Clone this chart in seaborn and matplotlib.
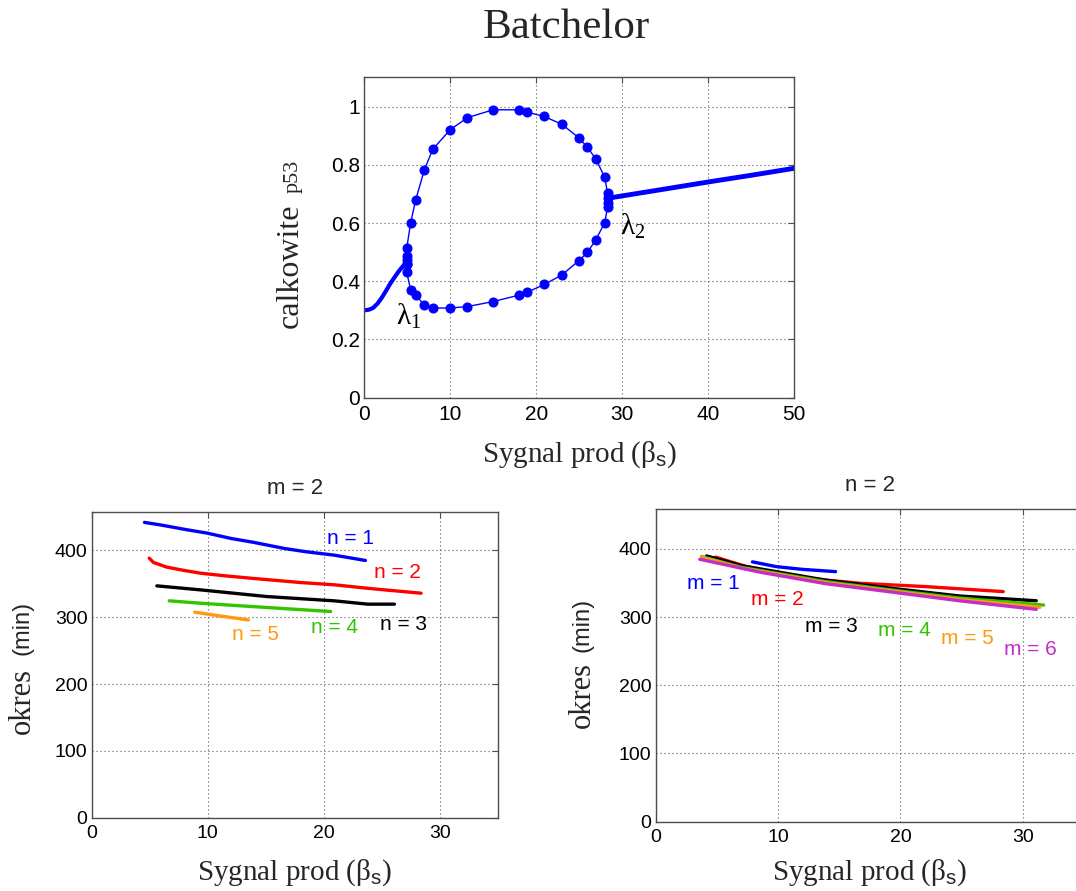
import numpy as np
import pandas as pd
import matplotlib
matplotlib.use("Agg")
import matplotlib.pyplot as plt
import seaborn as sns

# ---------------- data ----------------
# bifurcation diagram: total p53 vs signal production
stable_low_x = [0, 0.5, 1.0, 1.5, 2.0, 2.5, 3.0, 3.5, 4.0, 4.5, 4.9]
stable_low_y = [0.300, 0.302, 0.308, 0.322, 0.342, 0.366, 0.391, 0.413, 0.434, 0.452, 0.462]

stable_high_x = [28.5, 35, 40, 45, 50]
stable_high_y = [0.686, 0.717, 0.741, 0.764, 0.788]

# oscillation amplitudes (max branch then min branch)
cycle_x = [4.93, 4.93, 4.93, 4.93, 5.39, 5.97, 6.98, 7.95, 9.97, 11.99, 14.97, 17.96,
           18.93, 20.95, 23.0, 24.98, 25.95, 26.92, 27.97, 28.3, 28.3, 28.3, 28.3,
           27.97, 26.92, 25.95, 24.98, 23.0, 20.95, 18.93, 17.96, 14.97, 11.99, 9.97,
           7.95, 6.98, 5.97, 5.39, 4.93, 4.93]
cycle_y = [0.459, 0.473, 0.485, 0.513, 0.601, 0.679, 0.782, 0.853, 0.920, 0.962, 0.989, 0.989,
           0.981, 0.966, 0.939, 0.892, 0.860, 0.821, 0.757, 0.702, 0.685, 0.668, 0.656,
           0.601, 0.542, 0.499, 0.471, 0.422, 0.389, 0.362, 0.352, 0.330, 0.313, 0.308,
           0.308, 0.318, 0.353, 0.370, 0.431, 0.459]

top_xticks = [0, 10, 20, 30, 40, 50]
top_yticks = [0, 0.2, 0.4, 0.6, 0.8, 1.0]
top_yticklabels = ["0", "0.2", "0.4", "0.6", "0.8", "1"]

# period vs signal production, m = 2, varying n
n_labels = ["n = 1", "n = 2", "n = 3", "n = 4", "n = 5"]
n1_x = [4.55, 6.0, 8.2, 9.94, 12.0, 14.0, 16.6, 18.5, 20.9, 23.6]
n1_y = [442, 438, 431, 426, 418, 412, 403, 398, 393, 385]
n2_x = [4.96, 5.33, 6.48, 8.0, 9.37, 11.5, 13.7, 16.0, 18.0, 20.9, 24.0, 28.4]
n2_y = [388.5, 382, 375, 370, 366, 362, 358.5, 355, 352, 348.6, 343, 336]
n3_x = [5.62, 9.37, 15.1, 20.9, 23.8, 26.1]
n3_y = [347, 341, 331, 324.6, 319.6, 319.6]
n4_x = [6.69, 9.37, 15.1, 20.6]
n4_y = [324.6, 321, 314.6, 308.6]
n5_x = [8.88, 10.8, 13.5]
n5_y = [307.6, 302.6, 296]
n_label_pos = [(22.3, 418.5), (26.4, 367), (26.9, 288.6), (20.9, 285), (14.1, 274.6)]

# period vs signal production, n = 2, varying m
m_labels = ["m = 1", "m = 2", "m = 3", "m = 4", "m = 5", "m = 6"]
m1_x = [7.91, 9.87, 12.0, 14.7]
m1_y = [381, 374, 370, 366.7]
m2_x = [4.9, 7.42, 11.2, 16.7, 22.1, 28.4]
m2_y = [388, 374, 359, 349.6, 344.7, 337.4]
m3_x = [4.16, 7.15, 13.95, 19.4, 24.8, 31.1]
m3_y = [389.7, 375, 354, 342, 331, 324]
m4_x = [3.75, 7.0, 13.9, 19.4, 24.8, 31.7]
m4_y = [388.8, 373, 352, 339.5, 328, 317.7]
m5_x = [3.75, 7.0, 13.9, 19.4, 24.8, 31.4]
m5_y = [387.8, 372, 350.5, 338, 326, 314.4]
m6_x = [3.6, 8.5, 13.9, 19.4, 24.8, 31.1]
m6_y = [384.8, 366, 349, 336.5, 324, 311.4]
m_label_pos = [(4.7, 349.6), (9.9, 326), (14.35, 286), (20.3, 280), (25.5, 269), (30.65, 252.8)]

bottom_xticks = [0, 10, 20, 30]
bottom_yticks = [0, 100, 200, 300, 400]

# ---------------- style ----------------
sns.set_theme(style="white")
plt.rcParams["font.family"] = ["Liberation Sans", "DejaVu Sans"]
plt.rcParams["mathtext.fontset"] = "custom"
plt.rcParams["mathtext.rm"] = "Liberation Serif"
plt.rcParams["mathtext.sf"] = "Liberation Sans"
plt.rcParams["mathtext.it"] = "Liberation Serif:italic"

SERIF = ["Liberation Serif", "DejaVu Serif"]
BLUE = "#0000ff"
RED = "#ff0000"
BLACK = "#000000"
GREEN = "#33c400"
ORANGE = "#ff9a10"
MAGENTA = "#c42ec4"
XLABEL = r"Sygnal prod (β$_{\mathsf{s}}$)"


def style_axes(ax, xlim, ylim, xticks, yticks, labelsize):
    ax.set_xlim(*xlim)
    ax.set_ylim(*ylim)
    ax.set_xticks(xticks)
    ax.set_yticks(yticks)
    ax.grid(True, color="0.35", linestyle=(0, (1, 2.6)), linewidth=0.8)
    ax.set_axisbelow(True)
    for s in ax.spines.values():
        s.set_color("0.3")
        s.set_linewidth(1.0)
        s.set_visible(True)
    ax.tick_params(direction="in", length=4, width=0.8, color="0.3",
                   top=True, right=True, labelsize=labelsize, labelcolor="black")
    ax.tick_params(axis="y", pad=3)
    ax.tick_params(axis="x", pad=5)
    ax.set_xlabel("")
    ax.set_ylabel("")


fig = plt.figure(figsize=(10.76, 8.91), dpi=100)
fig.patch.set_facecolor("white")

# ---------------- top panel ----------------
ax0 = fig.add_axes([0.3386, 0.5537, 0.3994, 0.3603])
sns.lineplot(x=stable_low_x, y=stable_low_y, ax=ax0, color=BLUE, linewidth=3,
             sort=False, estimator=None)
sns.lineplot(x=stable_high_x, y=stable_high_y, ax=ax0, color=BLUE, linewidth=3.5,
             sort=False, estimator=None)
sns.lineplot(x=cycle_x, y=cycle_y, ax=ax0, color=BLUE, linewidth=1.0,
             sort=False, estimator=None, marker="o", markersize=6.5,
             markeredgecolor=BLUE, markerfacecolor=BLUE)
style_axes(ax0, (0, 50), (0, 1.103), top_xticks, top_yticks, 15)
ax0.set_yticklabels(top_yticklabels)
ax0.set_xticklabels([str(v) for v in top_xticks])

ax0.text(3.7, 0.28, r"λ$_{\mathregular{1}}$", family=SERIF, fontsize=21,
         ha="left", va="center", color="black")
ax0.text(29.7, 0.59, r"λ$_{\mathregular{2}}$", family=SERIF, fontsize=21,
         ha="left", va="center", color="black")

ax0.text(0.5, -0.178, XLABEL, transform=ax0.transAxes,
         family=SERIF, fontsize=21, ha="center", va="center")
ax0.text(-0.172, 0.41, "calkowite", transform=ax0.transAxes, family=SERIF,
         fontsize=23, rotation=90, ha="center", va="center")
ax0.text(-0.165, 0.69, "p53", transform=ax0.transAxes, family=SERIF,
         fontsize=16, rotation=90, ha="center", va="center")

fig.text(0.526, 0.9686, "Batchelor", family=SERIF, fontsize=31, ha="center", va="center")

# ---------------- bottom left: m = 2 ----------------
ax1 = fig.add_axes([0.0852, 0.0823, 0.3773, 0.3434])
n_series = [(n1_x, n1_y, BLUE), (n2_x, n2_y, RED), (n3_x, n3_y, BLACK),
            (n4_x, n4_y, GREEN), (n5_x, n5_y, ORANGE)]
for (xs, ys, c), lab, (lx, ly) in zip(n_series, n_labels, n_label_pos):
    sns.lineplot(x=xs, y=ys, ax=ax1, color=c, linewidth=2.4, sort=False, estimator=None)
    ax1.text(lx, ly, lab, color=c, fontsize=15, ha="center", va="center")
style_axes(ax1, (0, 35), (0, 458), bottom_xticks, bottom_yticks, 14)
ax1.set_title("m = 2", fontsize=16, pad=13)
ax1.text(0.5, -0.18, XLABEL, transform=ax1.transAxes,
         family=SERIF, fontsize=21, ha="center", va="center")
ax1.text(-0.171, 0.38, "okres", transform=ax1.transAxes, family=SERIF,
         fontsize=22, rotation=90, ha="center", va="center")
ax1.text(-0.171, 0.62, "(min)", transform=ax1.transAxes,
         fontsize=17, rotation=90, ha="center", va="center")

# ---------------- bottom right: n = 2 ----------------
ax2 = fig.add_axes([0.6094, 0.0778, 0.398, 0.3509])
m_series = [(m1_x, m1_y, BLUE), (m2_x, m2_y, RED), (m3_x, m3_y, BLACK),
            (m4_x, m4_y, GREEN), (m5_x, m5_y, ORANGE), (m6_x, m6_y, MAGENTA)]
for (xs, ys, c), lab, (lx, ly) in zip(m_series, m_labels, m_label_pos):
    sns.lineplot(x=xs, y=ys, ax=ax2, color=c, linewidth=2.4, sort=False, estimator=None)
    ax2.text(lx, ly, lab, color=c, fontsize=15, ha="center", va="center")
style_axes(ax2, (0, 35), (0, 458.5), bottom_xticks, bottom_yticks, 14)
ax2.set_title("n = 2", fontsize=16, pad=13)
ax2.text(0.5, -0.164, XLABEL, transform=ax2.transAxes,
         family=SERIF, fontsize=21, ha="center", va="center")
ax2.text(-0.172, 0.405, "okres", transform=ax2.transAxes, family=SERIF,
         fontsize=22, rotation=90, ha="center", va="center")
ax2.text(-0.172, 0.63, "(min)", transform=ax2.transAxes,
         fontsize=17, rotation=90, ha="center", va="center")

fig.savefig("out.png", dpi=100, facecolor="white")
